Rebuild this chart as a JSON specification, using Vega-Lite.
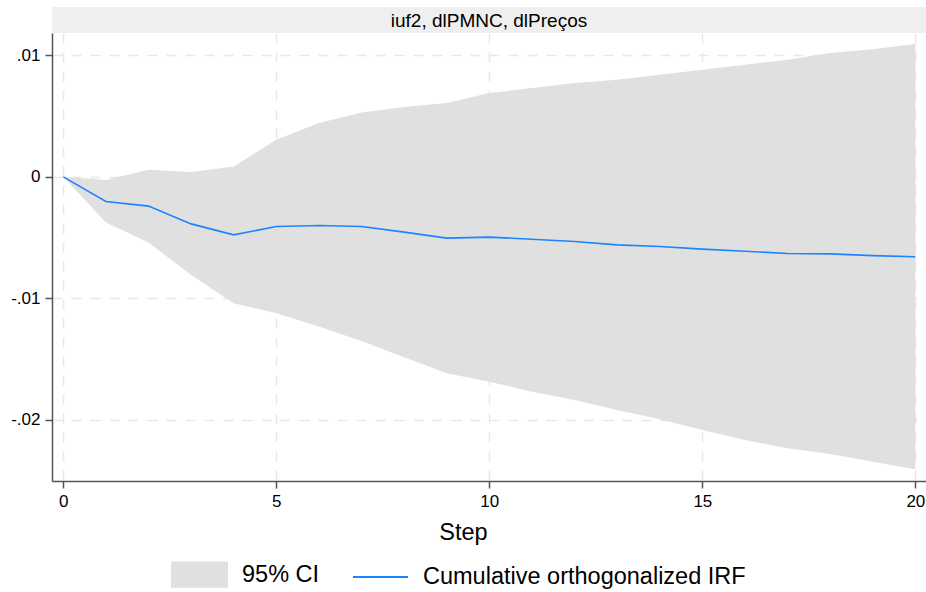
{
  "$schema": "https://vega.github.io/schema/vega-lite/v6.json",
  "autosize": {"type": "pad"},
  "padding": {"left": 10, "top": 7, "right": 0, "bottom": 0},
  "background": "white",
  "config": {
    "font": "Liberation Sans",
    "view": {"stroke": null},
    "concat": {"spacing": 0}
  },
  "datasets": {
    "panel": [{"label": "iuf2, dlPMNC, dlPreços"}],
    "irf": [
      {"step": 0, "irf": 0, "lo": 0, "hi": 0},
      {"step": 1, "irf": -0.00203, "lo": -0.00376, "hi": -0.00027},
      {"step": 2, "irf": -0.00241, "lo": -0.0054, "hi": 0.00058},
      {"step": 3, "irf": -0.00387, "lo": -0.00807, "hi": 0.00039},
      {"step": 4, "irf": -0.00477, "lo": -0.0104, "hi": 0.00085},
      {"step": 5, "irf": -0.00409, "lo": -0.01122, "hi": 0.00305},
      {"step": 6, "irf": -0.00401, "lo": -0.01232, "hi": 0.00442},
      {"step": 7, "irf": -0.00409, "lo": -0.0135, "hi": 0.00529},
      {"step": 8, "irf": -0.00455, "lo": -0.01484, "hi": 0.00574},
      {"step": 9, "irf": -0.00504, "lo": -0.01616, "hi": 0.00607},
      {"step": 10, "irf": -0.00496, "lo": -0.01685, "hi": 0.00689},
      {"step": 11, "irf": -0.00513, "lo": -0.01767, "hi": 0.0073},
      {"step": 12, "irf": -0.00532, "lo": -0.01835, "hi": 0.00771},
      {"step": 13, "irf": -0.0056, "lo": -0.01918, "hi": 0.00798},
      {"step": 14, "irf": -0.00573, "lo": -0.01994, "hi": 0.0084},
      {"step": 15, "irf": -0.00595, "lo": -0.02082, "hi": 0.00881},
      {"step": 16, "irf": -0.00612, "lo": -0.02165, "hi": 0.00922},
      {"step": 17, "irf": -0.00631, "lo": -0.02233, "hi": 0.00963},
      {"step": 18, "irf": -0.00634, "lo": -0.0228, "hi": 0.01018},
      {"step": 19, "irf": -0.00648, "lo": -0.02343, "hi": 0.0105},
      {"step": 20, "irf": -0.00658, "lo": -0.02406, "hi": 0.01092}
    ]
  },
  "bounds": "flush",
  "vconcat": [
    {
      "width": 874,
      "height": 26,
      "view": {"fill": "#efefef", "stroke": null},
      "data": {"name": "panel"},
      "mark": {"type": "text", "fontSize": 19, "font": "Liberation Sans", "color": "#000000", "baseline": "middle", "dy": 1},
      "encoding": {"text": {"field": "label"}}
    },
    {
      "width": 874,
      "height": 448,
      "data": {"name": "irf"},
      "layer": [
        {
          "mark": {"type": "rule", "color": "#000000", "strokeWidth": 1.5, "strokeDash": [8, 5]},
          "encoding": {"y": {"datum": 0, "type": "quantitative", "scale": {"domain": [-0.02502, 0.01183]}}}
        },
        {
          "transform": [{"calculate": "'95% CI'", "as": "series"}],
          "mark": {"type": "area", "opacity": 1, "clip": true},
          "encoding": {
            "x": {"field": "step", "type": "quantitative"},
            "y": {"field": "lo", "type": "quantitative"},
            "y2": {"field": "hi"},
            "color": {"field": "series", "type": "nominal"}
          }
        },
        {
          "transform": [{"calculate": "'Cumulative orthogonalized IRF'", "as": "series"}],
          "mark": {"type": "line", "strokeWidth": 1.6, "clip": true},
          "encoding": {
            "x": {"field": "step", "type": "quantitative"},
            "y": {"field": "irf", "type": "quantitative"},
            "color": {"field": "series", "type": "nominal"}
          }
        }
      ],
      "encoding": {
        "x": {
          "field": "step",
          "type": "quantitative",
          "scale": {"domain": [-0.265, 20.25], "nice": false, "zero": false},
          "axis": {
            "values": [0, 5, 10, 15, 20],
            "title": "Step",
            "titleFontSize": 23.5,
            "titleFontWeight": "normal",
            "titleColor": "#000000",
            "titleX": 411,
            "titleY": 58,
            "titleBaseline": "alphabetic",
            "titleAnchor": null,
            "labelFontSize": 17,
            "labelColor": "#000000",
            "labelPadding": 5,
            "tickSize": 7,
            "tickColor": "#555555",
            "tickWidth": 1.5,
            "domainColor": "#555555",
            "domainWidth": 1.5,
            "grid": true,
            "gridColor": "#e8e8e8",
            "gridWidth": 1.5,
            "gridDash": [10, 9]
          }
        },
        "y": {
          "type": "quantitative",
          "scale": {"domain": [-0.02502, 0.01183], "nice": false, "zero": false},
          "axis": {
            "values": [-0.02, -0.01, 0, 0.01],
            "title": null,
            "labelExpr": "replace(replace(format(datum.value, '.2~f'), '\u2212', '-'), '0.', '.')",
            "labelFontSize": 17,
            "labelColor": "#000000",
            "labelPadding": 5,
            "tickSize": 7,
            "tickColor": "#555555",
            "tickWidth": 1.5,
            "domainColor": "#555555",
            "domainWidth": 1.5,
            "grid": true,
            "gridColor": "#e8e8e8",
            "gridWidth": 1.5,
            "gridDash": [10, 9]
          }
        },
        "color": {
          "field": "series",
          "type": "nominal",
          "scale": {"domain": ["95% CI", "Cumulative orthogonalized IRF"], "range": ["#e0e0e0", "#1a85ff"]},
          "legend": {
            "orient": "none",
            "direction": "horizontal",
            "legendX": 119,
            "legendY": 539,
            "title": null,
            "labelFontSize": 23.5,
            "labelColor": "#000000",
            "labelLimit": 600,
            "labelOffset": 14,
            "columnPadding": 29,
            "symbolSize": 3025,
            "encode": {
              "symbols": {
                "update": {
                  "shape": {"signal": "datum.value === '95% CI' ? 'M-1,-0.44H1V0.44H-1Z' : 'M-1,0H1'"},
                  "fill": {"signal": "datum.value === '95% CI' ? '#e0e0e0' : 'transparent'"},
                  "stroke": {"signal": "datum.value === '95% CI' ? 'transparent' : '#1a85ff'"},
                  "strokeWidth": {"value": 2},
                  "opacity": {"value": 1}
                }
              }
            }
          }
        }
      }
    }
  ]
}
